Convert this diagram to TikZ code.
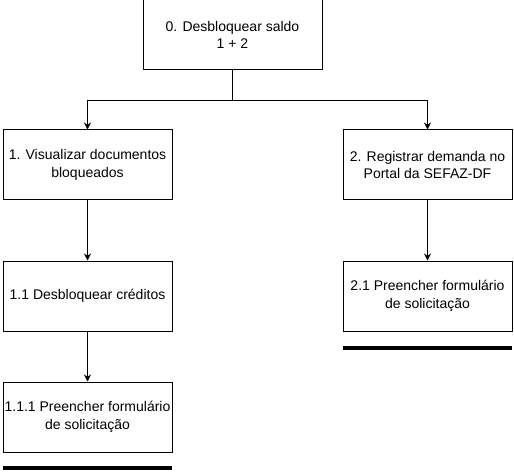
\documentclass[tikz,border=0pt]{standalone}
\usepackage{fontspec}
\setmainfont{Liberation Sans}
\usetikzlibrary{positioning,arrows.meta}

\begin{document}
\begin{tikzpicture}[x=1pt,y=1pt,node distance=60pt,>={Stealth[length=7pt,width=7pt]},
    task/.style={draw,line width=1pt,minimum width=169pt,minimum height=70pt,align=center,
        font=\fontsize{14}{17.5}\selectfont,inner sep=0pt},
    endbar/.style={fill=black,minimum width=169pt,minimum height=4pt,inner sep=0pt}]
    \useasboundingbox (0,0) rectangle (514,-473);
    \node[task,minimum width=179pt] (t0) at (232.5,-35) {0. Desbloquear saldo\\1 + 2};
    \node[task] (t1) at (87.5,-165) {1. Visualizar documentos\\bloqueados};
    \node[task] (t2) at (427.5,-165) {2. Registrar demanda no\\Portal da SEFAZ-DF};
    \node[task,below=of t1] (t11) {1.1 Desbloquear créditos};
    \node[task,below=50pt of t11] (t111) {1.1.1 Preencher formulário\\de solicitação};
    \node[task,below=of t2] (t21) {2.1 Preencher formulário\\de solicitação};

    \node[endbar,below=13pt of t111] (bar1) {};
    \node[endbar,below=14pt of t21] (bar2) {};

    \coordinate[below=30pt of t0] (split);
    \draw[line width=1pt] (t0) -- (split);
    \draw[->,line width=1pt] (split) -| (t1);
    \draw[->,line width=1pt] (split) -| (t2);
    \draw[->,line width=1pt] (t1) -- (t11);
    \draw[->,line width=1pt] (t11) -- (t111);
    \draw[->,line width=1pt] (t2) -- (t21);
\end{tikzpicture}
\end{document}
